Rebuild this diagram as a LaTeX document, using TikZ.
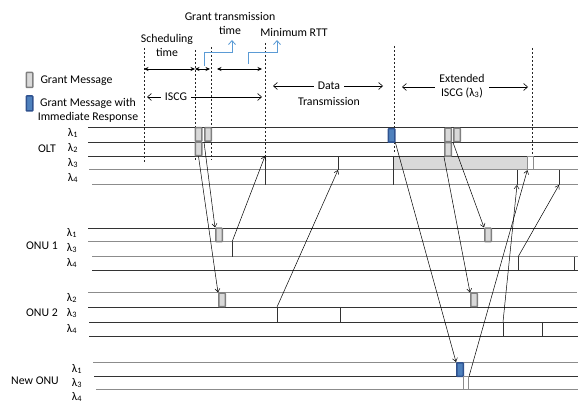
\documentclass[tikz,border=0pt]{standalone}
\usepackage{fontspec}
\setmainfont{Carlito}
\usepackage{xcolor}
\usepackage{tikz}
\usetikzlibrary{calc,arrows.meta,positioning}
\colorlet{wireD}{black!80}
\colorlet{wireG}{black!45}
\definecolor{tipB}{HTML}{5B9BD5}
\definecolor{grantF}{HTML}{D9D9D9}
\definecolor{grantB}{HTML}{7F7F7F}
\definecolor{imF}{HTML}{4F81BD}
\definecolor{imB}{HTML}{2F528F}

\begin{document}
\begin{tikzpicture}[x=1pt,y=-1pt,
    font=\fontsize{11.8}{14}\selectfont,
    wdark/.style={draw=wireD, line width=0.7pt},
    wgray/.style={draw=wireG, line width=1pt},
    grant/.style={draw=grantB, fill=grantF, line width=1.5pt, rounded corners=0.6pt, minimum width=6.5pt, minimum height=13.5pt, inner sep=0pt},
    imresp/.style={grant, draw=imB, fill=imF},
    slot/.style={draw=wireG, fill=white, line width=0.9pt, minimum width=5.5pt, minimum height=13.5pt, inner sep=0pt},
    msg/.style={line width=0.5pt, -{Straight Barb[length=3.5pt,width=5pt]}},
    tickl/.style={draw=wireD, line width=0.7pt},
    dimarr/.style={line width=0.6pt, {Stealth[length=4.5pt,width=4pt]}-{Stealth[length=4.5pt,width=4pt]}},
    farr/.style={line width=0.6pt, {Straight Barb[length=4pt,width=7pt]}-{Straight Barb[length=4pt,width=7pt]}},
    guide/.style={draw=black!85, line width=0.7pt, dash pattern=on 2pt off 2pt},
    callout/.style={draw=tipB, line width=0.8pt, -{Straight Barb[length=4pt,width=7pt]}}
  ]
  \useasboundingbox (0,0) rectangle (581,403);

  % --- shaded extended ISCG slot on OLT lambda_3 ---
  \fill[grantF] (393,156) rectangle (528,170);

  % --- OLT wavelength lines ---
  \draw[wdark] (88,127) -- (578,127);
  \draw[wdark] (88,142) -- (578,142);
  \draw[wdark] (88,156) -- (578,156);
  \draw[wgray] (89,170) -- (578,170);
  \draw[wgray] (92,185) -- (578,185);

  % --- ONU 1 wavelength lines ---
  \draw[wdark] (88,228) -- (578,228);
  \draw[wgray] (88,242) -- (578,242);
  \draw[wgray] (92,257) -- (578,257);
  \draw[wdark] (92,270) -- (578,270);

  % --- ONU 2 wavelength lines ---
  \draw[wgray] (88,293) -- (577,293);
  \draw[wdark] (88,307) -- (577,307);
  \draw[wdark] (89,322) -- (578,322);
  \draw[wdark] (89,336) -- (578,336);

  % --- New ONU wavelength lines ---
  \draw[wgray] (93,362) -- (578,362);
  \draw[wdark] (94,376) -- (578,376);
  \draw[wgray] (96,389) -- (578,389);

  % --- dashed time markers ---
  \draw[guide] (144,48) -- (144,162);
  \draw[guide] (195,50) -- (195,160);
  \draw[guide] (211,47) -- (211,160);
  \draw[guide] (265,43) -- (265,156);
  \draw[guide] (394,46) -- (394,153);
  \draw[guide] (532,48) -- (532,156);

  % --- station and wavelength labels ---
  \node (olt) at (47,149) {OLT};
  \node (oltL1) at (73,133) {λ\textsubscript{1}};
  \node (oltL2) at (73,148) {λ\textsubscript{2}};
  \node (oltL3) at (73,163) {λ\textsubscript{3}};
  \node (oltL4) at (73,178) {λ\textsubscript{4}};
  \node (onuA) at (42,246) {ONU 1};
  \node (onuAL1) at (72,233) {λ\textsubscript{1}};
  \node (onuAL3) at (72,248) {λ\textsubscript{3}};
  \node (onuAL4) at (72,263) {λ\textsubscript{4}};
  \node (onuB) at (42,313) {ONU 2};
  \node (onuBL2) at (72,298) {λ\textsubscript{2}};
  \node (onuBL3) at (72,313) {λ\textsubscript{3}};
  \node (onuBL4) at (72,329) {λ\textsubscript{4}};
  \node (onuN) at (35,381) {New ONU};
  \node (onuNL1) at (77,369) {λ\textsubscript{1}};
  \node (onuNL3) at (77,383) {λ\textsubscript{3}};
  \node (onuNL4) at (77,397) {λ\textsubscript{4}};

  % --- legend ---
  \node[grant, minimum height=15pt] (legG) at (29.5,80) {};
  \node[anchor=west] (legGt) at (37,81) {Grant Message};
  \node[imresp, minimum height=15pt] (legI) at (29.5,103.5) {};
  \node[align=center] (legIt) at (88,110) {Grant Message with\\Immediate Response};

  % --- timing spans at the top ---
  \coordinate (s0) at (144,69);
  \coordinate (s1) at (195,69);
  \coordinate (s2) at (210,69);
  \coordinate (s3) at (217,69);
  \coordinate (s4) at (262,69);
  \draw[dimarr] (s0) -- (s1);
  \draw[dimarr] (s1) -- (s2);
  \draw[dimarr] (s3) -- (s4);
  \node[align=center] (sched) at (167,45) {Scheduling\\time};
  \node[align=center] (gtx) at (230,23) {Grant transmission\\time};
  \node (rtt) at (294,32) {Minimum RTT};
  \draw[callout] (204,66) -- (204,52) -- (232,52) -- (232,40);
  \draw[callout] (248,64) -- (248,52) -- (277,52) -- (277,40);

  % --- interval arrows ---
  \coordinate (i0) at (147,97);
  \coordinate (i1) at (262,97);
  \draw[farr] (i0) -- (i1);
  \node[fill=white, inner sep=4pt] (iscg) at (176,97) {ISCG};
  \coordinate (d0) at (273,86);
  \coordinate (d1) at (383,86);
  \draw[farr] (d0) -- (d1);
  \node[fill=white, inner sep=4pt] (data) at (329,86) {Data};
  \node (trans) at (329,101) {Transmission};
  \coordinate (e0) at (402,87);
  \coordinate (e1) at (528,87);
  \draw[farr] (e0) -- (e1);
  \node[fill=white, align=center, inner sep=4pt] (ext) at (462,86) {Extended\\ISCG (λ\textsubscript{3})};

  % --- grant messages ---
  \node[grant] (oltA1) at (198.5,134.5) {};
  \node[grant] (oltA2) at (198.5,149) {};
  \node[grant] (oltA3) at (208,134.5) {};
  \node[imresp] (oltIm) at (391.5,135.5) {};
  \node[grant] (oltB1) at (448,135) {};
  \node[grant] (oltB2) at (448,149.5) {};
  \node[grant] (oltB3) at (457,135) {};
  \node[slot] (oltS) at (530.5,163) {};
  \node[grant] (onuAg) at (219,235) {};
  \node[grant] (onuAh) at (488,235) {};
  \node[grant] (onuBg) at (222,300) {};
  \node[grant] (onuBh) at (474,300) {};
  \node[imresp] (newIm) at (460,369.5) {};
  \node[slot] (newS) at (466,383) {};

  % --- upstream bursts (ticks) ---
  \coordinate (oltT1) at (265,156);
  \coordinate (oltT2) at (338,170);
  \coordinate (oltT4) at (517,185);
  \coordinate (oltT5) at (559,185);
  \coordinate (onuAT1) at (232,242);
  \coordinate (onuAT2) at (518,257);
  \coordinate (onuBT1) at (277,307);
  \coordinate (onuBT3) at (503,322);
  \draw[tickl] (oltT1) -- ++(0,29);
  \draw[tickl] (oltT2) -- ++(0,-14);
  \draw[tickl] (oltT4) -- ++(0,-15);
  \draw[tickl] (oltT5) -- ++(0,-15);
  \draw[tickl] (393,156) -- (393,185);
  \draw[tickl] (onuAT1) -- ++(0,15);
  \draw[tickl] (onuAT2) -- ++(0,13);
  \draw[tickl] (574,257) -- (574,270);
  \draw[tickl] (onuBT1) -- ++(0,15);
  \draw[tickl] (340,307) -- (340,322);
  \draw[tickl] (onuBT3) -- ++(0,14);
  \draw[tickl] (542,322) -- (542,336);

  % --- downstream grants ---
  \draw[msg] (oltA3.south west) -- (onuAg.north west);
  \draw[msg] (oltA2.south) -- (onuBg.north west);
  \draw[msg] (oltIm.south east) -- (newIm.north west);
  \draw[msg] (oltB3.south west) -- (onuAh.north west);
  \draw[msg] (oltB2.south west) -- (onuBh.north west);

  % --- upstream data / reports ---
  \draw[msg] (onuAT1) -- (oltT1);
  \draw[msg] (onuBT1) -- (oltT2);
  \draw[msg] (onuBT3) -- (oltT4);
  \draw[msg] (onuAT2) -- (oltT5);
  \draw[msg] (newS.north east) -- (oltS.south west);
\end{tikzpicture}
\end{document}
